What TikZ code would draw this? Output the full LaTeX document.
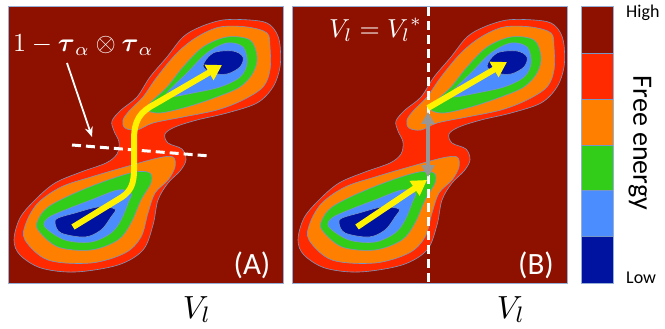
\documentclass[tikz,border=0pt]{standalone}
\usepackage{amsmath}
\usepackage{fontspec}
\newfontfamily\carl{Carlito}
\usetikzlibrary{arrows.meta}
\definecolor{bgred}{RGB}{142,17,0}
\definecolor{lvred}{RGB}{255,42,0}
\definecolor{lvorange}{RGB}{255,128,0}
\definecolor{lvgreen}{RGB}{50,205,25}
\definecolor{lvlblue}{RGB}{75,140,255}
\definecolor{lvdblue}{RGB}{0,18,160}
\definecolor{edge}{RGB}{120,150,195}
\definecolor{frame}{RGB}{150,175,215}
\definecolor{arrowgray}{RGB}{150,150,150}
\tikzset{
  lvl/.style={draw=edge, line width=0.6pt},
  yarrow/.style={draw=yellow, line width=6pt, -{Triangle[length=15pt,width=17pt]}},
  wdash/.style={draw=white, line width=3pt, dash pattern=on 9pt off 5pt},
  paneltext/.style={text=white, font=\carl\fontsize{31}{35}\selectfont, inner sep=0pt},
  axislabel/.style={inner sep=0pt, anchor=base},
  bartext/.style={font=\carl\fontsize{18}{21}\selectfont, inner sep=0pt, anchor=base west},
}
\newcommand\drawcontours{%
  \fill[bgred] (8,7) rectangle (283,283);
  \filldraw[lvl, fill=lvred] plot[smooth cycle, tension=0.55] coordinates {
    (227,113) (197,120) (175,127) (165,134) (168,143) (182,149) (186,160) (180,171)
    (168,183) (158,200) (153,225) (143,250) (118,265) (75,272) (41,268) (20,255)
    (14,240) (20,218) (35,200) (55,183) (81,172) (106,163) (117,154) (119,142)
    (114,131) (112,121) (121,110) (137,97) (150,77) (167,57) (183,37) (200,27)
    (223,20) (250,20) (267,23) (276,32) (280,45) (280,67) (273,87) (257,103)};
  \filldraw[lvl, fill=lvorange] plot[smooth cycle, tension=0.55] coordinates {
    (267,33) (270,47) (270,70) (263,87) (243,100) (217,110) (183,117) (153,123)
    (137,130) (125,128) (123,120) (130,110) (143,97) (157,77) (177,53) (197,37)
    (220,27) (247,27)};
  \filldraw[lvl, fill=lvorange] plot[smooth cycle, tension=0.55] coordinates {
    (25,240) (26,223) (38,203) (61,187) (91,177) (125,167) (158,158) (173,157)
    (175,167) (168,180) (155,193) (148,213) (141,237) (125,253) (91,263) (48,260)};
  \filldraw[lvl, fill=lvgreen] plot[smooth cycle, tension=0.55] coordinates {
    (250,40) (257,57) (253,73) (240,87) (217,97) (187,107) (160,113) (147,110)
    (150,103) (167,87) (183,67) (203,47) (227,37)};
  \filldraw[lvl, fill=lvgreen] plot[smooth cycle, tension=0.55] coordinates {
    (38,230) (38,220) (48,207) (75,193) (108,180) (135,172) (150,173) (151,183)
    (141,200) (131,223) (118,240) (91,250) (58,247)};
  \filldraw[lvl, fill=lvlblue] plot[smooth cycle, tension=0.55] coordinates {
    (247,63) (240,77) (220,87) (193,93) (170,97) (167,93) (187,73) (207,53)
    (227,43) (243,47)};
  \filldraw[lvl, fill=lvlblue] plot[smooth cycle, tension=0.55] coordinates {
    (45,227) (48,218) (65,210) (91,200) (118,190) (131,193) (128,203) (121,220)
    (111,233) (91,242) (65,240)};
  \filldraw[lvl, fill=lvdblue] plot[smooth cycle, tension=0.55] coordinates {
    (233,51) (213,53) (203,66) (213,73) (227,74) (240,67) (243,57)};
  \filldraw[lvl, fill=lvdblue] plot[smooth cycle, tension=0.55] coordinates {
    (55,223) (61,233) (85,237) (101,230) (111,217) (115,209) (98,207) (75,213)
    (58,218)};
}
\begin{document}
\begin{tikzpicture}[x=1pt,y=-1pt]
\useasboundingbox (0,0) rectangle (665,329);
\fill[white] (0,0) rectangle (665,329);

% ---------- panel A ----------
\begin{scope}
  \clip (8,7) rectangle (283,283);
  \drawcontours
\end{scope}
\draw[frame, line width=1pt] (8,7) rectangle (283,283);
\coordinate (da1) at (72,145);
\coordinate (da2) at (210,156);
\draw[wdash] (da1) -- (da2);
\coordinate (ya0) at (73,227);
\coordinate (ya1) at (222,65);
\draw[yarrow] (ya0) -- (122,197) .. controls (131,191) and (134,183) .. (134,170)
  -- (134,140) .. controls (134,120) and (140,112) .. (155,104) -- (ya1);
\node[text=white, inner sep=0pt, anchor=base west]
  (lab) at (13,52) {\scalebox{2.6}{$1-\boldsymbol{\tau}_\alpha\otimes\boldsymbol{\tau}_\alpha$}};
\coordinate (la0) at (67,63);
\coordinate (la1) at (92,137);
\draw[white, line width=1.8pt, -{Stealth[length=10pt,width=8pt]}] (la0) -- (la1);
\node[paneltext] (pa) at (252,265) {(A)};
\node[axislabel] (va) at (197,318) {\scalebox{3.2}{$V_l$}};

% ---------- panel B ----------
\begin{scope}[shift={(284,0)}]
  \clip (8,7) rectangle (283,283);
  \drawcontours
\end{scope}
\draw[frame, line width=1pt] (292,7) rectangle (567,283);
\coordinate (db1) at (428,7);
\coordinate (db2) at (428,283);
\draw[wdash] (db1) -- (db2);
\coordinate (yb0) at (357,227);
\coordinate (yb1) at (427,180);
\draw[yarrow] (yb0) -- (yb1);
\coordinate (yc0) at (428,108);
\coordinate (yc1) at (507,62);
\draw[yarrow] (yc0) -- (yc1);
\coordinate (g0) at (428,112);
\coordinate (g1) at (428,177);
\draw[arrowgray, line width=3.5pt, {Triangle[length=12pt,width=13pt]}-{Triangle[length=12pt,width=13pt]}] (g0) -- (g1);
\node[text=white, inner sep=0pt, anchor=base west]
  (vlab) at (329,38) {\scalebox{2.6}{$V_l = {V_l}^{*}$}};
\node[paneltext] (pb) at (536,265) {(B)};
\node[axislabel] (vb) at (511,318) {\scalebox{3.2}{$V_l$}};

% ---------- colour bar ----------
\fill[bgred]    (581,7)     rectangle (613,53.3);
\fill[lvred]    (581,53.3)  rectangle (613,99.3);
\fill[lvorange] (581,99.3)  rectangle (613,145);
\fill[lvgreen]  (581,145)   rectangle (613,190.7);
\fill[lvlblue]  (581,190.7) rectangle (613,236.7);
\fill[lvdblue]  (581,236.7) rectangle (613,283);
\foreach \yy in {53.3,99.3,145,190.7,236.7}
  \draw[edge, line width=0.6pt] (581,\yy) -- (613,\yy);
\draw[frame, line width=1pt] (581,7) rectangle (613,283);
\node[bartext] (hi) at (626,18) {High};
\node[bartext] (lo) at (626,283) {Low};
\node[font=\carl\fontsize{28}{32}\selectfont, rotate=-90, inner sep=0pt] (fe) at (640,143) {Free energy};
\end{tikzpicture}
\end{document}
